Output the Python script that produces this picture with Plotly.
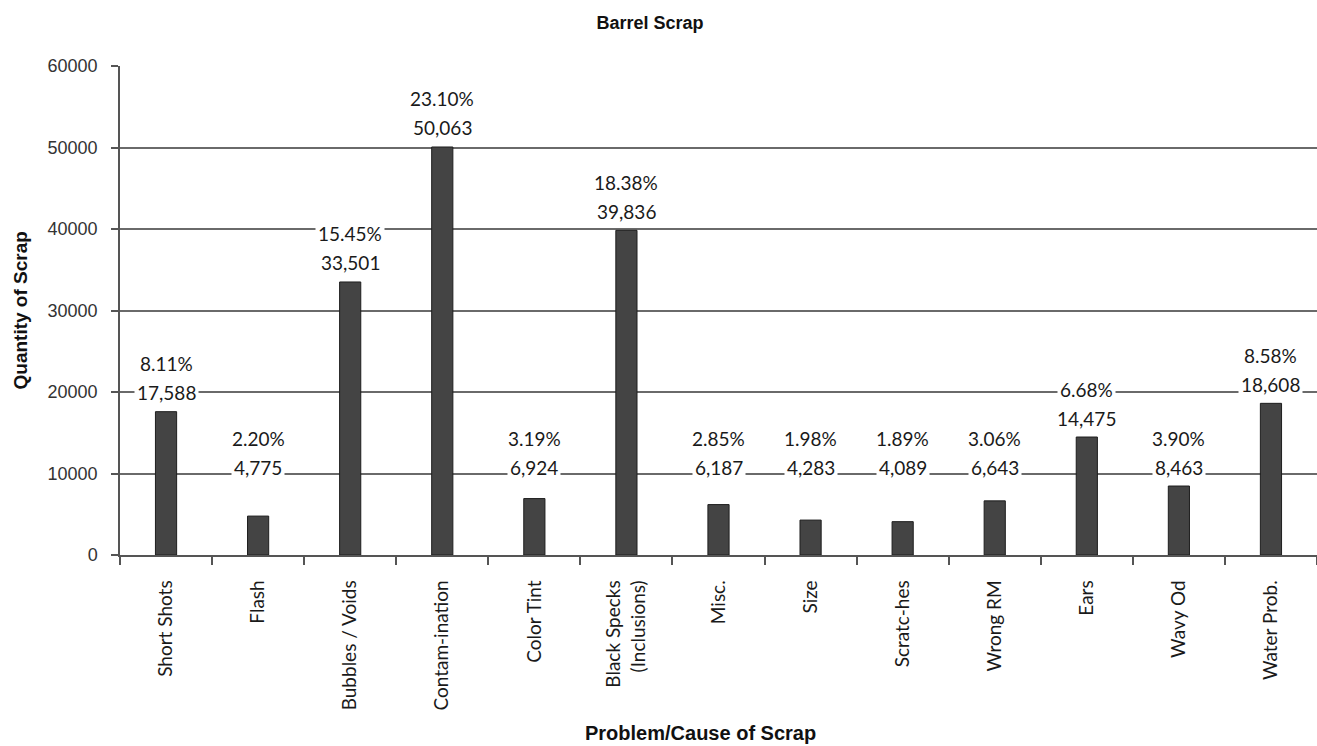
import plotly.graph_objects as go

categories = ["Short Shots", "Flash", "Bubbles / Voids", "Contam-ination", "Color Tint",
              "Black Specks<br>(Inclusions)", "Misc.", "Size", "Scratc-hes", "Wrong RM",
              "Ears", "Wavy Od", "Water Prob."]
quantities = [17588, 4775, 33501, 50063, 6924, 39836, 6187, 4283, 4089, 6643, 14475, 8463, 18608]
percents = [8.11, 2.20, 15.45, 23.10, 3.19, 18.38, 2.85, 1.98, 1.89, 3.06, 6.68, 3.90, 8.58]
y_ticks = [0, 10000, 20000, 30000, 40000, 50000, 60000]

LABEL_FLOOR = 8400  # minimum anchor for data labels (Excel-style moved labels)
W, H = 1317, 746
L, R, T, B = 120, 0, 66, 191
PW, PH = W - L - R, H - T - B

fig = go.Figure()
fig.add_trace(go.Bar(
    x=categories, y=quantities, width=0.23,
    marker=dict(color="#444444", line=dict(color="#1e1e1e", width=1)),
    hoverinfo="x+y",
))

label_font = dict(family="Lato, Carlito, sans-serif", size=19, color="#1a1a1a")
for c, q, p in zip(categories, quantities, percents):
    anchor = max(q, LABEL_FLOOR)
    fig.add_annotation(x=c, y=anchor, xref="x", yref="y", text=f"{q:,}",
                       showarrow=False, yanchor="middle", yshift=19,
                       bgcolor="white", borderpad=2, font=label_font)
    fig.add_annotation(x=c, y=anchor, xref="x", yref="y", text=f"{p:.2f}%",
                       showarrow=False, yanchor="middle", yshift=48,
                       bgcolor="white", borderpad=2, font=label_font)

# axis titles
fig.add_annotation(text="<b>Quantity of Scrap</b>", xref="paper", yref="paper",
                   x=(20 - L) / PW, y=0.5, xanchor="center", yanchor="middle",
                   textangle=-90, showarrow=False,
                   font=dict(family="Liberation Sans, Arial, sans-serif", size=19, color="#111"))
fig.add_annotation(text="<b>Problem/Cause of Scrap</b>", xref="paper", yref="paper",
                   x=(700 - L) / PW, y=(555 - 733) / PH, xanchor="center", yanchor="middle",
                   showarrow=False,
                   font=dict(family="Liberation Sans, Arial, sans-serif", size=20, color="#111"))

fig.update_layout(
    width=W, height=H,
    margin=dict(l=L, r=R, t=T, b=B, autoexpand=False),
    paper_bgcolor="white", plot_bgcolor="white",
    showlegend=False, bargap=0.77,
    title=dict(text="<b>Barrel Scrap</b>", x=650 / W, xref="container", xanchor="center",
               y=1 - 23 / H, yanchor="middle",
               font=dict(family="Liberation Sans, Arial, sans-serif", size=18, color="#111")),
)
fig.update_xaxes(
    type="category", tickangle=-90, tickson="boundaries",
    ticks="outside", ticklen=8, tickcolor="#555", tickwidth=1.5,
    showline=True, linecolor="#555", linewidth=1.5,
    showgrid=False, automargin=False, ticklabelstandoff=16,
    tickfont=dict(family="Lato, Carlito, sans-serif", size=19, color="#1a1a1a"),
)
fig.update_yaxes(
    range=[0, 60000], tickvals=y_ticks, ticktext=[str(v) for v in y_ticks],
    ticks="outside", ticklen=7, tickcolor="#555", tickwidth=1.5,
    showline=True, linecolor="#555", linewidth=1.5,
    showgrid=True, gridcolor="#6a6a6a", gridwidth=1.5, zeroline=False,
    automargin=False, ticklabelstandoff=10,
    tickfont=dict(family="Liberation Sans, Arial, sans-serif", size=18, color="#333"),
)

fig.write_html("out.html")
